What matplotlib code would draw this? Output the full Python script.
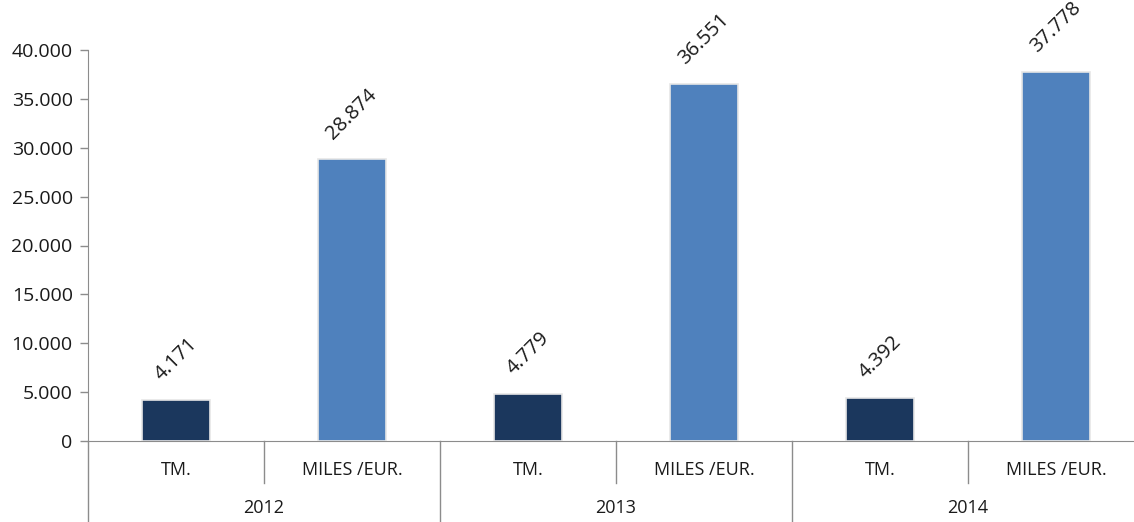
import matplotlib.pyplot as plt
import matplotlib.transforms as mtransforms

# data
years = ["2012", "2013", "2014"]
sub_labels = ["TM.", "MILES /EUR."]
tm_values = [4171, 4779, 4392]
miles_values = [28874, 36551, 37778]

dark = "#1B375D"
light = "#4F81BD"
grey = "#8C8C8C"
txt = "#1A1A1A"

plt.rcParams['font.family'] = ['Open Sans', 'DejaVu Sans']

fig = plt.figure(figsize=(11.34, 5.22), dpi=100)
W, H = 1134, 522
ax = fig.add_axes([88 / W, (H - 441) / H, 1056 / W, 391 / H])

# interleave values: TM, MILES for each year
values = []
colors = []
for t, m in zip(tm_values, miles_values):
    values += [t, m]
    colors += [dark, light]
xs = list(range(len(values)))

bars = ax.bar(xs, values, width=0.39, color=colors, edgecolor="#E6E6E6", linewidth=1.2, zorder=3)

def fmt(v):
    return f"{v:,}".replace(",", ".")

for x, v in zip(xs, values):
    ax.annotate(fmt(v), (x, v), xytext=(0, 11), textcoords="offset points",
                ha="center", va="bottom", rotation=45, fontsize=14.5, color=txt)

ax.set_xlim(-0.5, 5.5)
ax.set_ylim(0, 40000)
ax.set_yticks(range(0, 40001, 5000))
ax.set_yticklabels([fmt(v) for v in range(0, 40001, 5000)], fontsize=14, color=txt)
ax.tick_params(axis="y", length=6, color=grey, width=1, pad=5)
ax.set_xticks([])

for s in ["top", "right"]:
    ax.spines[s].set_visible(False)
ax.spines["left"].set_color(grey)
ax.spines["bottom"].set_color(grey)

# multi-level category axis drawn by hand
trans = mtransforms.blended_transform_factory(ax.transData, ax.transAxes)
px = 1.0 / 391  # one pixel in axes fraction
for x in xs:
    ax.text(x, -29 * px, sub_labels[x % 2], transform=trans, ha="center", va="center",
            fontsize=13, color=txt)
for i, yr in enumerate(years):
    ax.text(2 * i + 0.5, -67 * px, yr, transform=trans, ha="center", va="center",
            fontsize=13, color=txt)
for x in [0.5, 2.5, 4.5]:
    ax.plot([x, x], [0, -42 * px], transform=trans, color=grey, lw=1, clip_on=False)
for x in [-0.5, 1.5, 3.5, 5.5]:
    ax.plot([x, x], [0, -81 * px], transform=trans, color=grey, lw=1, clip_on=False)

fig.savefig("out.png", dpi=100)
